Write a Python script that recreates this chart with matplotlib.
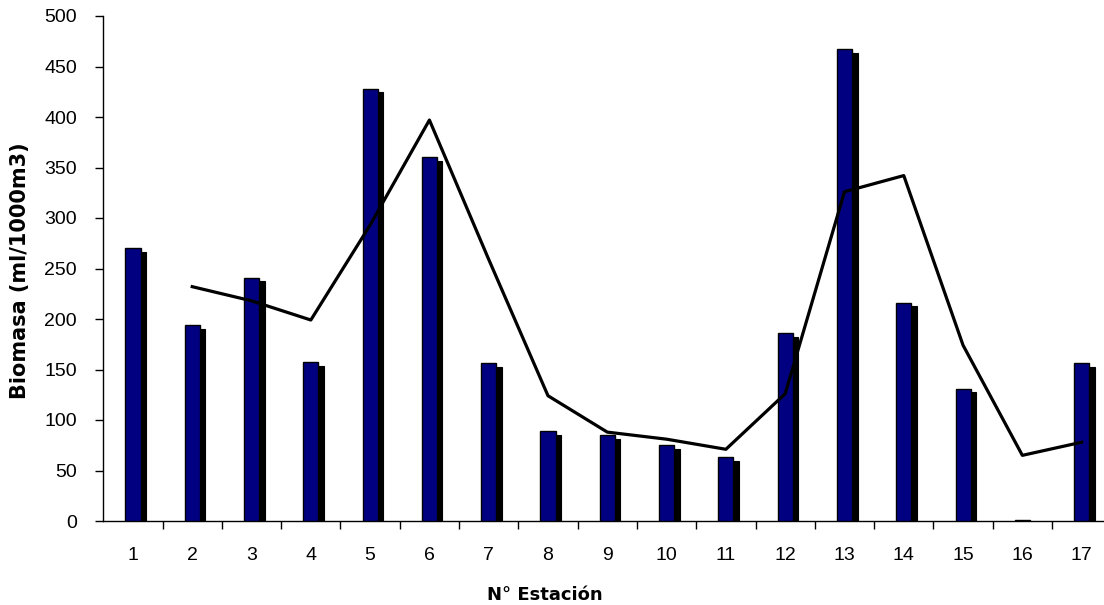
import numpy as np
import matplotlib.pyplot as plt
from matplotlib.transforms import ScaledTranslation

plt.rcParams['font.family'] = ['Liberation Sans', 'DejaVu Sans']

estaciones = list(range(1, 18))
biomasa = [270, 194, 241, 157, 428, 360, 156, 89, 85, 75, 63, 186, 467, 216, 131, 1, 156]
# media movil de 2 periodos (empieza en la estacion 2)
media_x = list(range(2, 18))
media = [232, 218, 199, 293, 397, 259, 124, 88, 81, 71, 126, 326, 342, 174, 65, 78]

fig = plt.figure(figsize=(11.04, 6.05), dpi=100)
ax = fig.add_axes([103.3 / 1104, 1 - 521 / 605, 1008 / 1104, 505 / 605])

x = np.array(estaciones)
ancho = 0.255

# sombra de las barras
sombra = ax.transData + ScaledTranslation(5.5 / 100, -3.5 / 100, fig.dpi_scale_trans)
ax.bar(x, biomasa, width=ancho, color='black', edgecolor='black', linewidth=0.8,
       transform=sombra, zorder=2)
ax.bar(x, biomasa, width=ancho, color='#000080', edgecolor='black', linewidth=1.0, zorder=3)

ax.plot(media_x, media, color='black', linewidth=2.3, zorder=4)

ax.set_xlim(0.5, 17.5)
ax.set_ylim(0, 500)
ax.set_yticks(range(0, 501, 50))
ax.set_xticks(x)
ax.set_xticks(np.arange(1.5, 17, 1), minor=True)
ax.tick_params(axis='x', which='major', length=0, pad=19, labelsize=14)
ax.tick_params(axis='x', which='minor', length=5.5, width=1, direction='out')
ax.tick_params(axis='y', length=6, width=1, direction='out', pad=13, labelsize=14)

for s in ['top', 'right']:
    ax.spines[s].set_visible(False)
for s in ['left', 'bottom']:
    ax.spines[s].set_linewidth(1)

ax.set_xlabel('N° Estación', fontsize=13, fontweight='bold', family='DejaVu Sans')
ax.set_ylabel('Biomasa (ml/1000m3)', fontsize=15, fontweight='bold', family='DejaVu Sans')
ax.xaxis.set_label_coords(0.438, -0.147)
ax.yaxis.set_label_coords(-0.083, 0.495)
ax.xaxis.label.set_va('center')
ax.yaxis.label.set_va('center')

fig.savefig('out.png', dpi=100)
